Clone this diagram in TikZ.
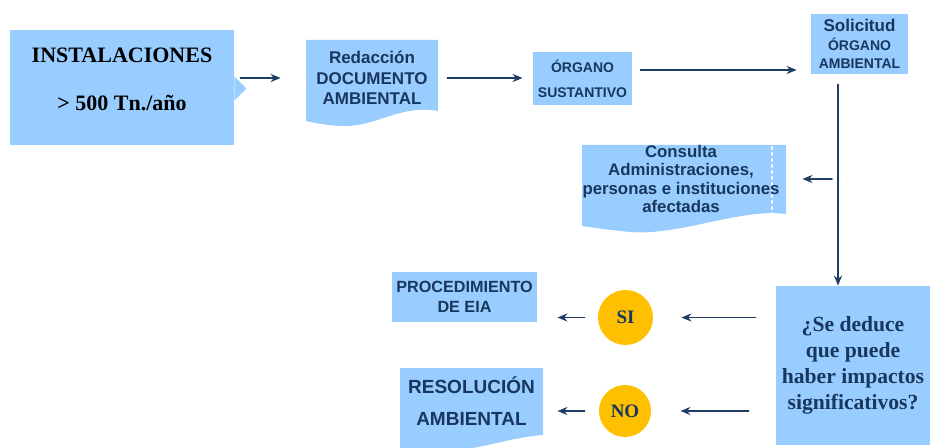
\documentclass[tikz,border=0pt]{standalone}
\usepackage{fontspec}
\setmainfont{Liberation Serif}
\setsansfont{Liberation Sans}
\usetikzlibrary{arrows.meta, positioning}
\definecolor{celeste}{HTML}{99CCFF}
\definecolor{marino}{HTML}{17375E}
\definecolor{flechaazul}{HTML}{1F3C64}
\definecolor{oro}{HTML}{FFC000}
\newcommand{\tam}[2]{\fontsize{#1}{#2}\selectfont}

\begin{document}
\begin{tikzpicture}[x=0.5pt, y=-0.5pt, line cap=round, line join=round,
    caja/.style={fill=celeste, inner sep=0pt, text=marino, align=center},
    texto/.style={inner sep=0pt, text=marino, align=center},
    circulo/.style={circle, fill=oro, inner sep=0pt, text=marino},
    flecha/.style={line width=0.8pt, flechaazul, -{Stealth[length=5pt, width=4pt]}}]
      \useasboundingbox (0,0) rectangle (930,448);

      % Instalaciones
      \node[caja, minimum width=112pt, minimum height=57.5pt] (inst) at (122,87.5) {};
      \fill[celeste] ([yshift=5.5pt]inst.east) -- ++(12,12) -- ([yshift=-6.5pt]inst.east) -- cycle;
      \node[texto, text=black, font=\bfseries\tam{11}{13}] (instTxt) at (122,79)
            {INSTALACIONES\\[11pt]> 500 Tn./año};

      % Documento ambiental
      \fill[celeste] (306,40) -- (438,40) -- (438,111) .. controls (400,104) and (375,128) .. (340,126)
            .. controls (325,125) and (314,123) .. (306,121) -- cycle;
      \node[texto, font=\sffamily\bfseries\tam{8.5}{10.2}, minimum width=66pt, minimum height=36pt] (redac) at (372,78)
            {Redacción\\DOCUMENTO\\AMBIENTAL};

      % Organos
      \node[caja, font=\sffamily\bfseries\tam{7}{12.5}, minimum width=49.5pt, minimum height=26.5pt] (organo) at (582.5,78.5)
            {ÓRGANO\\SUSTANTIVO};
      \node[caja, font=\sffamily\bfseries\tam{7}{9.3}, minimum width=48.5pt, minimum height=30pt] (solic) at (859.5,44)
            {{\tam{8.5}{9.3}Solicitud}\\ÓRGANO\\AMBIENTAL};

      % Consulta
      \fill[celeste] (582,145) -- (786,145) -- (786,214) .. controls (740,208) and (680,236) .. (630,232)
            .. controls (610,230) and (595,228) .. (582,226) -- cycle;
      \draw[white, dotted, line width=1pt] (772,147) -- (772,213);
      \node[texto, font=\sffamily\bfseries\tam{8.4}{9.3}, minimum width=102pt, minimum height=34pt] (consul) at (681,179)
            {Consulta\\Administraciones,\\personas e instituciones\\afectadas};

      % Pregunta
      \node[caja, font=\bfseries\tam{10.8}{13}, minimum width=77pt, minimum height=79.5pt] (decis) at (853,365.5)
            {¿Se deduce\\que puede\\haber impactos\\significativos?};

      % Respuestas
      \node[circulo, font=\bfseries\tam{9.5}{11}, minimum size=27.5pt] (si) at (625.5,317.5) {SI};
      \node[circulo, font=\bfseries\tam{9.5}{11}, minimum size=26pt] (no) at (625,411) {NO};

      \node[caja, font=\sffamily\bfseries\tam{8.1}{10}, minimum width=72.5pt, minimum height=25pt] (proc) at (464.5,297)
            {PROCEDIMIENTO\\DE EIA};
      \fill[celeste] (400,368) -- (543,368) -- (543,435) .. controls (515,437) and (490,446) .. (460,450)
            -- (400,450) -- cycle;
      \node[texto, font=\sffamily\bfseries\tam{9.5}{16}, minimum width=71.5pt, minimum height=34pt] (resol) at (471.5,401)
            {RESOLUCIÓN\\AMBIENTAL};

      % Flechas
      \draw[flecha, shorten <=3pt, shorten >=12.5pt] (inst.east |- redac.west) -- (redac.west);
      \draw[flecha, shorten <=4.5pt, shorten >=5pt] (redac.east) -- (redac.east -| organo.west);
      \draw[flecha, shorten <=4pt, shorten >=7pt] ([yshift=4.25pt]organo.east) -- ([yshift=4.25pt]organo.east -| solic.west);
      \coordinate (baja) at ([xshift=-10.75pt]solic.south);
      \draw[flecha, shorten <=5pt] (baja) -- (baja |- decis.north);
      \draw[flecha, shorten <=3pt, shorten >=9.5pt] (baja |- consul.east) -- (consul.east);
      \draw[flecha, shorten <=10pt, shorten >=14pt] (decis.west |- si.east) -- (si.east);
      \draw[flecha, shorten <=13.5pt, shorten >=14.5pt] (decis.west |- no.east) -- (no.east);
      \draw[flecha, shorten <=6.5pt, shorten >=10pt] (si.west) -- (si.west -| proc.east);
      \draw[flecha, shorten <=7pt, shorten >=7pt] (no.west) -- (no.west -| resol.east);
    \end{tikzpicture}
\end{document}
